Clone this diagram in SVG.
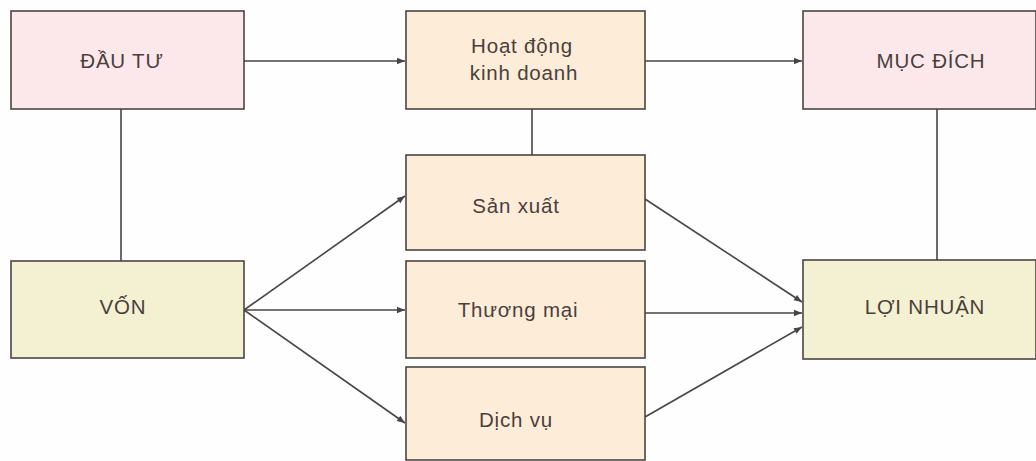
<svg xmlns="http://www.w3.org/2000/svg" width="1036" height="461" viewBox="0 0 1036 461">
<defs>
<style>
.box{stroke:#4a4544;stroke-width:1.6}
.pink{fill:#fce8ea}
.cream{fill:#fcecd8}
.yel{fill:#f4f1d3}
text{font-family:"Liberation Sans",Arial,sans-serif;font-size:20.5px;fill:#4a3f3c;text-anchor:middle;letter-spacing:0.8px}
.c{fill:none;stroke:#4a4544;stroke-width:1.6}
</style>
<marker id="ah" viewBox="0 0 10 10" refX="10" refY="5" markerWidth="10" markerHeight="8" markerUnits="userSpaceOnUse" orient="auto">
<path d="M0,1 L10,5 L0,9 Z" fill="#4a4544"/>
</marker>
</defs>
<rect width="1036" height="461" fill="#fefefe"/>
<g id="connectors">
<line class="c" x1="244" y1="61" x2="405" y2="61" marker-end="url(#ah)"/>
<line class="c" x1="645" y1="61" x2="802" y2="61" marker-end="url(#ah)"/>
<line class="c" x1="121" y1="109" x2="121" y2="261"/>
<line class="c" x1="532" y1="109" x2="532" y2="155"/>
<line class="c" x1="937" y1="109" x2="937" y2="260"/>
<line class="c" x1="244" y1="310" x2="405" y2="196" marker-end="url(#ah)"/>
<line class="c" x1="244" y1="310" x2="405" y2="310" marker-end="url(#ah)"/>
<line class="c" x1="244" y1="310" x2="405" y2="423" marker-end="url(#ah)"/>
<line class="c" x1="645" y1="199" x2="802" y2="302" marker-end="url(#ah)"/>
<line class="c" x1="645" y1="313" x2="802" y2="313" marker-end="url(#ah)"/>
<line class="c" x1="645" y1="417" x2="802" y2="327" marker-end="url(#ah)"/>
</g>
<g id="dau-tu"><rect class="box pink" x="11" y="11" width="233" height="98"/><text x="122" y="68">ĐẦU TƯ</text></g>
<g id="hoat-dong"><rect class="box cream" x="406" y="11" width="239" height="98"/><text x="522" y="53">Hoạt động</text><text x="524" y="80">kinh doanh</text></g>
<g id="muc-dich"><rect class="box pink" x="803" y="11" width="233" height="98"/><text x="931" y="68">MỤC ĐÍCH</text></g>
<g id="san-xuat"><rect class="box cream" x="406" y="155" width="239" height="95"/><text x="516" y="213">Sản xuất</text></g>
<g id="von"><rect class="box yel" x="11" y="261" width="233" height="97"/><text x="123" y="314">VỐN</text></g>
<g id="thuong-mai"><rect class="box cream" x="406" y="261" width="239" height="97"/><text x="518" y="317">Thương mại</text></g>
<g id="loi-nhuan"><rect class="box yel" x="803" y="260" width="233" height="99"/><text x="925" y="314">LỢI NHUẬN</text></g>
<g id="dich-vu"><rect class="box cream" x="406" y="367" width="239" height="93"/><text x="516" y="427">Dịch vụ</text></g>
</svg>
